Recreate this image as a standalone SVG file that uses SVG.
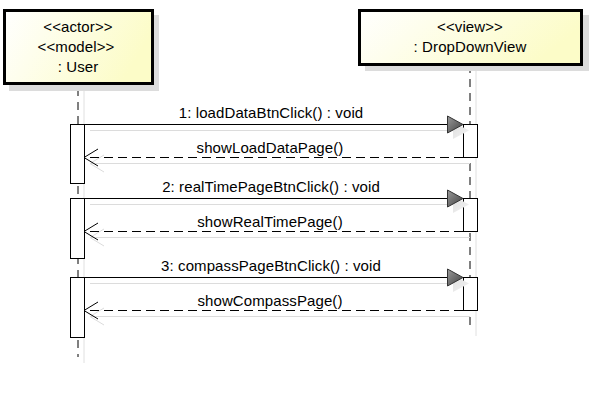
<svg xmlns="http://www.w3.org/2000/svg" width="606" height="406" viewBox="0 0 606 406">
<defs>
<linearGradient id="boxg" x1="0" y1="0" x2="1" y2="0.3">
<stop offset="0" stop-color="#ffffff"/>
<stop offset="1" stop-color="#fcfcc8"/>
</linearGradient>
<linearGradient id="arrg" x1="0" y1="0" x2="1" y2="1">
<stop offset="0" stop-color="#9a9a9a"/>
<stop offset="1" stop-color="#404040"/>
</linearGradient>
<linearGradient id="arrs" x1="0" y1="0" x2="1" y2="1">
<stop offset="0" stop-color="#e0e0e0"/>
<stop offset="1" stop-color="#f2f2f2"/>
</linearGradient>
<style>
.box{fill:url(#boxg);stroke:#000;stroke-width:3}
.shadow{fill:#dcdcdc}
.lbl{font-family:"Liberation Sans",Arial,sans-serif;font-size:15px;letter-spacing:0.1px;fill:#000;text-anchor:middle}
.life{stroke:#000;stroke-width:1;stroke-dasharray:8,6;fill:none}
.lifes{stroke:#e0e0e0;stroke-width:1;fill:none}
.act{fill:#fff;stroke:#000;stroke-width:1}
.msg{stroke:#000;stroke-width:1;fill:none}
.msgs{stroke:#dcdcdc;stroke-width:1;fill:none}
.ret{stroke:#000;stroke-width:1;stroke-dasharray:9,5;fill:none}
.retshadow{stroke:#dcdcdc;stroke-width:1;fill:none}
</style>
</defs>
<rect width="606" height="406" fill="#fff"/>

<g id="lifelines">
<line class="lifes" x1="84" y1="90" x2="84" y2="363"/>
<line class="life" x1="78" y1="88" x2="78" y2="357"/>
<line class="lifes" x1="476" y1="71" x2="476" y2="336"/>
<line class="life" x1="470" y1="65" x2="470" y2="331"/>
</g>

<g id="user">
<rect class="shadow" x="9" y="15" width="150" height="76"/>
<rect class="box" x="4.5" y="10.5" width="148" height="73"/>
<text class="lbl" x="78" y="32">&lt;&lt;actor&gt;&gt;</text>
<text class="lbl" x="76" y="52">&lt;&lt;model&gt;&gt;</text>
<text class="lbl" x="78" y="72">: User</text>
</g>

<g id="dropdownview">
<rect class="shadow" x="365" y="15" width="224" height="56"/>
<rect class="box" x="359.5" y="10.5" width="222" height="54"/>
<text class="lbl" x="470" y="32">&lt;&lt;view&gt;&gt;</text>
<text class="lbl" x="470" y="52">: DropDownView</text>
</g>

<g id="activations">
<rect class="act" x="70.5" y="124.5" width="14" height="59"/>
<rect class="act" x="70.5" y="198.5" width="14" height="60"/>
<rect class="act" x="70.5" y="277.5" width="14" height="60"/>
<rect class="act" x="463.5" y="124.5" width="14" height="33"/>
<rect class="act" x="463.5" y="198.5" width="14" height="33"/>
<rect class="act" x="463.5" y="277.5" width="14" height="33"/>
</g>

<g id="connectors">
<!-- message 1 -->
<line class="msgs" x1="90" y1="130.5" x2="455" y2="130.5"/>
<polygon points="453,122 469,130.5 453,139" fill="url(#arrs)"/>
<line class="msg" x1="84" y1="124.5" x2="449" y2="124.5"/>
<polygon points="447.5,116 463,124.5 447.5,133" fill="url(#arrg)" stroke="#333" stroke-width="1"/>
<text class="lbl" x="271" y="118">1: loadDataBtnClick() : void</text>
<line class="retshadow" x1="90" y1="163.5" x2="470" y2="163.5"/>
<polyline class="retshadow" points="104,155 90,163.5 104,172"/>
<line class="ret" x1="463" y1="157.5" x2="85" y2="157.5"/>
<polyline class="msg" points="98,149 84,157.5 98,166"/>
<text class="lbl" x="270" y="153">showLoadDataPage()</text>

<!-- message 2 -->
<line class="msgs" x1="90" y1="204.5" x2="455" y2="204.5"/>
<polygon points="453,196 469,204.5 453,213" fill="url(#arrs)"/>
<line class="msg" x1="84" y1="198.5" x2="449" y2="198.5"/>
<polygon points="447.5,190 463,198.5 447.5,207" fill="url(#arrg)" stroke="#333" stroke-width="1"/>
<text class="lbl" x="271" y="192">2: realTimePageBtnClick() : void</text>
<line class="retshadow" x1="90" y1="237.5" x2="470" y2="237.5"/>
<polyline class="retshadow" points="104,229 90,237.5 104,246"/>
<line class="ret" x1="463" y1="231.5" x2="85" y2="231.5"/>
<polyline class="msg" points="98,223 84,231.5 98,240"/>
<text class="lbl" x="270" y="227">showRealTimePage()</text>

<!-- message 3 -->
<line class="msgs" x1="90" y1="283.5" x2="455" y2="283.5"/>
<polygon points="453,275 469,283.5 453,292" fill="url(#arrs)"/>
<line class="msg" x1="84" y1="277.5" x2="449" y2="277.5"/>
<polygon points="447.5,269 463,277.5 447.5,286" fill="url(#arrg)" stroke="#333" stroke-width="1"/>
<text class="lbl" x="271" y="271">3: compassPageBtnClick() : void</text>
<line class="retshadow" x1="90" y1="316.5" x2="470" y2="316.5"/>
<polyline class="retshadow" points="104,308 90,316.5 104,325"/>
<line class="ret" x1="463" y1="310.5" x2="85" y2="310.5"/>
<polyline class="msg" points="98,302 84,310.5 98,319"/>
<text class="lbl" x="270" y="306">showCompassPage()</text>
</g>
</svg>
